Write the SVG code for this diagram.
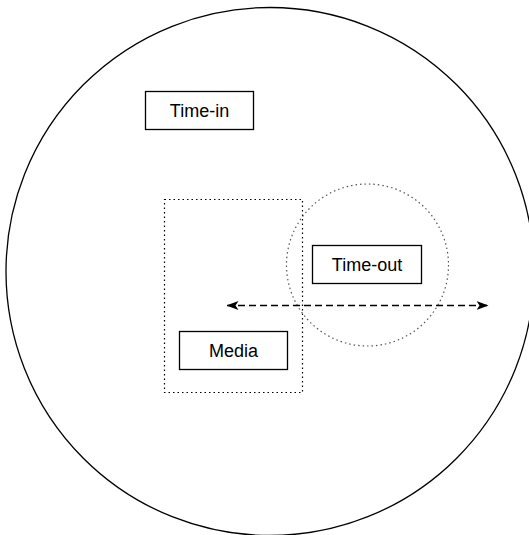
<svg xmlns="http://www.w3.org/2000/svg" width="529" height="535" viewBox="0 0 529 535">
<style>
.box{fill:#fff;stroke:#000;stroke-width:1.3}
.lbl{font-family:"Liberation Sans",Arial,sans-serif;font-size:18px;fill:#000;text-anchor:middle;dominant-baseline:central}
.dot{fill:none;stroke:#000;stroke-width:1.2;stroke-dasharray:1.5 3}
.dot.soft{stroke:#555}
</style>
<defs>
<marker id="ah" viewBox="0 0 12 9" refX="11.5" refY="4.5" markerWidth="12" markerHeight="9" orient="auto-start-reverse" markerUnits="userSpaceOnUse">
<path d="M0,0 L12,4.5 L0,9 L3,4.5 Z" fill="#000"/>
</marker>
</defs>
<rect width="529" height="535" fill="#fff"/>
<g id="world">
<circle cx="270" cy="271.5" r="264" fill="none" stroke="#000" stroke-width="1.3"/>
</g>
<g id="media-zone">
<rect class="dot" x="164.5" y="199.5" width="138" height="193"/>
</g>
<g id="timeout-zone">
<circle class="dot soft" cx="367.5" cy="265" r="81"/>
</g>
<g id="time-in">
<rect class="box" x="145.5" y="91.5" width="108" height="38"/>
<text class="lbl" x="199.5" y="110.5">Time-in</text>
</g>
<g id="time-out">
<rect class="box" x="312.5" y="245.5" width="109" height="38"/>
<text class="lbl" x="367" y="264.5">Time-out</text>
</g>
<g id="media">
<rect class="box" x="179.5" y="331.5" width="108" height="38"/>
<text class="lbl" x="233.5" y="350.5">Media</text>
</g>
<g id="connectors">
<line x1="227" y1="305.5" x2="488" y2="305.5" stroke="#000" stroke-width="1.6" stroke-dasharray="7 4" marker-start="url(#ah)" marker-end="url(#ah)"/>
</g>
</svg>
